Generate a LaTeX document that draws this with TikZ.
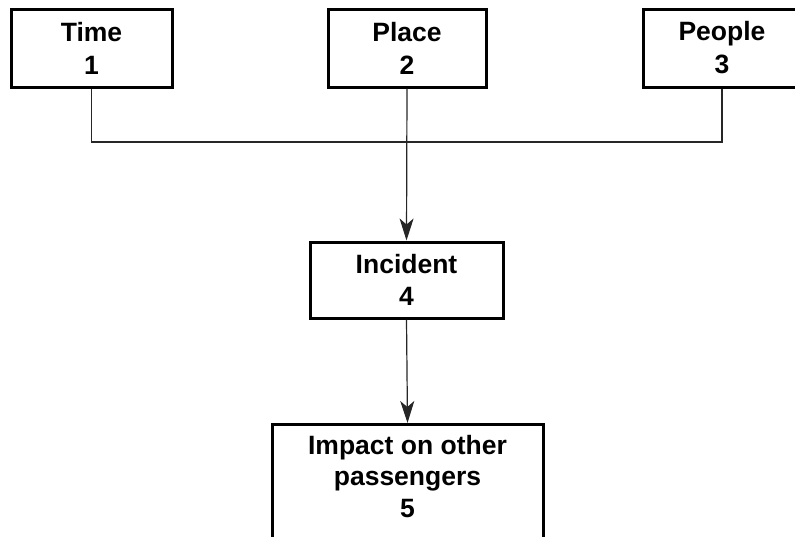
\documentclass[tikz,border=0pt]{standalone}
\usepackage{fontspec}
\setmainfont{Liberation Sans}
\usetikzlibrary{arrows.meta}
\begin{document}
\begin{tikzpicture}[x=1pt,y=-1pt,
  box/.style={draw=black,line width=3pt,fill=white,align=center,inner sep=0pt,
    font=\bfseries\fontsize{26.5}{33}\selectfont},
  boxtext/.style={align=center,inner sep=0pt,font=\bfseries\fontsize{26.5}{31.5}\selectfont},
  conn/.style={draw=black!85,line width=1.2pt},
  arr/.style={conn,-{Stealth[length=22pt,width=14pt,inset=6pt]}}]
\useasboundingbox (0,0) rectangle (795,536);
\clip (0,0) rectangle (795,536);
\node[box,minimum width=161,minimum height=78] (time) at (91.5,48) {Time\\1};
\node[box,minimum width=158,minimum height=78] (place) at (407,48) {Place\\2};
\node[box,minimum width=158,minimum height=78] (people) at (722,48) {People\\3};
\node[box,minimum width=193,minimum height=76,font=\bfseries\fontsize{26.5}{31.5}\selectfont] (incident) at (406.5,280) {Incident\\4};
\node[box,minimum width=271,minimum height=124,anchor=north] (impact) at (407.5,423) {};
\node[boxtext] (impacttext) at (407.5,476.5) {Impact on other\\passengers\\5};
\coordinate (j) at (407.5,142);
\draw[conn] (time.south) -- (time.south |- j) -- (people.south |- j) -- (people.south);
\draw[arr] (place.south) -- (incident.north);
\draw[arr] (incident.south) -- (impact.north);
\end{tikzpicture}
\end{document}
